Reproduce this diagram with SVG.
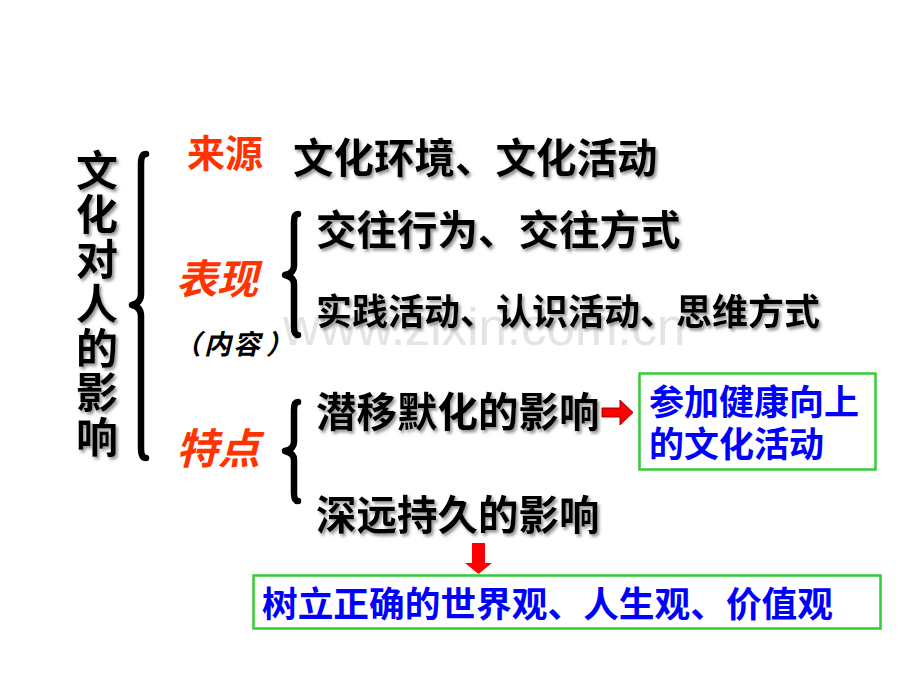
<svg xmlns="http://www.w3.org/2000/svg" width="920" height="690" viewBox="0 0 920 690">
<defs>
<filter id="sh" x="-5%" y="-20%" width="115%" height="150%">
<feDropShadow dx="2" dy="2.5" stdDeviation="1.5" flood-color="#777" flood-opacity="0.8"/>
</filter>
<style>
.cjk{font-family:"Noto Sans CJK SC","Noto Sans CJK TC",sans-serif;font-weight:bold;}
.blk{fill:#000;filter:url(#sh);}
.red{fill:#ff3300;}
.it{font-style:italic;}
.blue{fill:#0000ff;}
.box{fill:#fff;stroke:#33cc33;stroke-width:2.5;}
.brace{fill:none;stroke:#000;stroke-width:6.5;stroke-linecap:round;stroke-linejoin:round;}
.arr{fill:#ff0000;}
.wm{font-family:"Liberation Sans",Arial,sans-serif;fill:#e4e4e4;font-size:51px;}
</style>
</defs>
<rect width="920" height="690" fill="#fff"/>
<text class="wm" x="283" y="345">www.zixin.com.cn</text>

<g id="title" class="cjk blk" font-size="42" text-anchor="middle">
<text x="97" y="186">文</text>
<text x="97" y="230">化</text>
<text x="97" y="275">对</text>
<text x="97" y="319">人</text>
<text x="97" y="364">的</text>
<text x="97" y="408">影</text>
<text x="97" y="453">响</text>
</g>

<g id="connectors">
<path class="brace" d="M146,154 Q141,154 141,164 L141,294 Q141,303 132,305 Q141,307 141,316 L141,448 Q141,458 146,458"/>
<path class="brace" d="M298,214 Q294,214 294,222 L294,266 Q294,273 285,275 Q294,277 294,284 L294,327 Q294,335 298,335"/>
<path class="brace" d="M298,402 Q294,402 294,410 L294,442 Q294,449 285,451 Q294,453 294,460 L294,493 Q294,501 298,501"/>
<polygon class="arr" stroke="#990000" stroke-width="1" points="602,408 620,408 620,400 633,412.5 620,425 620,417 602,417"/>
<polygon class="arr" points="472,543 485,543 485,563 492,563 478.5,574 465,563 472,563"/>
</g>

<g id="source">
<text class="cjk red" x="187" y="167" font-size="38">来源</text>
<text class="cjk blk" x="293" y="173" font-size="40.5">文化环境、文化活动</text>
</g>

<g id="expression">
<text class="cjk red it" x="176" y="294" font-size="41">表现</text>
<text class="cjk it" x="174" y="354" font-size="27" font-weight="normal" fill="#000">（<tspan dx="3">内</tspan><tspan dx="2">容</tspan><tspan dx="6">）</tspan></text>
<text class="cjk blk" x="316" y="245" font-size="40.5">交往行为、交往方式</text>
<text class="cjk blk" x="316" y="325" font-size="36">实践活动、认识活动、思维方式</text>
</g>

<g id="feature">
<text class="cjk red it" x="176" y="464" font-size="42">特点</text>
<text class="cjk blk" x="316" y="427" font-size="40.5">潜移默化的影响</text>
<text class="cjk blk" x="316" y="530" font-size="40.5">深远持久的影响</text>
</g>

<g id="box-activity">
<rect class="box" x="639.5" y="373.5" width="236" height="96"/>
<text class="cjk blue" x="649" y="415" font-size="35">参加健康向上</text>
<text class="cjk blue" x="649" y="457" font-size="35">的文化活动</text>
</g>

<g id="box-outlook">
<rect class="box" x="253.5" y="575.5" width="627" height="53"/>
<text class="cjk blue" x="262" y="617" font-size="35.7">树立正确的世界观、人生观、价值观</text>
</g>
</svg>
